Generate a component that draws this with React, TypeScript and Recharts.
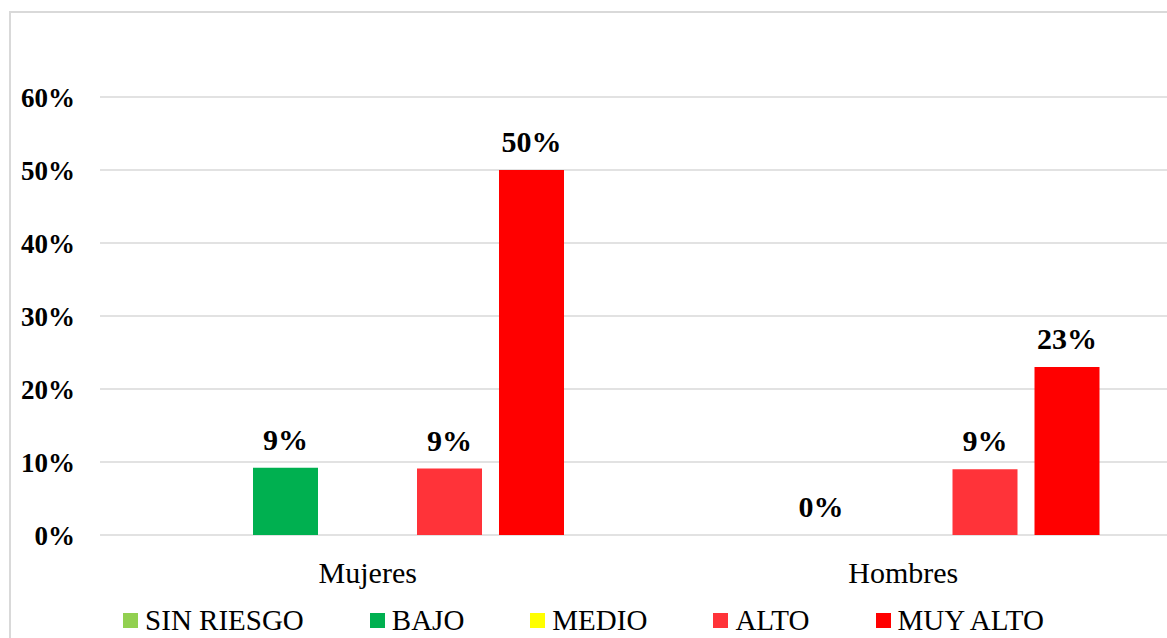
import { BarChart, Bar, XAxis, YAxis, CartesianGrid, Legend, LabelList } from "recharts";

const categories = ["Mujeres", "Hombres"];
const sinRiesgo = [null, null];
const bajo = [0.092, 0];
const medio = [null, null];
const alto = [0.091, 0.09];
const muyAlto = [0.5, 0.23];
const yTicks = [0, 0.1, 0.2, 0.3, 0.4, 0.5, 0.6];

const series = [
  { key: "sinRiesgo", name: "SIN RIESGO", color: "#92d050", values: sinRiesgo },
  { key: "bajo", name: "BAJO", color: "#00b050", values: bajo },
  { key: "medio", name: "MEDIO", color: "#ffff00", values: medio },
  { key: "alto", name: "ALTO", color: "#ff3339", values: alto },
  { key: "muyAlto", name: "MUY ALTO", color: "#ff0000", values: muyAlto },
];

const data = categories.map((c, i) => {
  const row: any = { name: c };
  series.forEach((s) => (row[s.key] = s.values[i]));
  return row;
});

const FONT = '"Liberation Serif", "Times New Roman", serif';
const pct = (v: any) => (v == null ? "" : `${Math.round(v * 100)}%`);

const LegendContent = () => (
  <div style={{ display: "flex", justifyContent: "center", alignItems: "center", fontFamily: FONT, fontSize: 29, color: "#000", gap: 66 }}>
    {series.map((s) => (
      <div key={s.key} style={{ display: "flex", alignItems: "center" }}>
        <span style={{ width: 15, height: 15, background: s.color, marginRight: 7, display: "inline-block" }} />
        <span style={{ lineHeight: "34px", whiteSpace: "nowrap", fontFamily: FONT }}>{s.name}</span>
      </div>
    ))}
  </div>
);

export default function App() {
  return (
    <div style={{ position: "absolute", left: 0, top: 0, width: 1167, height: 638, overflow: "hidden", background: "#fff", fontFamily: FONT }}>
      <div style={{ position: "absolute", left: 9, top: 11, width: 1300, height: 800, border: "2px solid #d9d9d9" }} />
      <div style={{ position: "absolute", left: 0, top: 0 }}>
        <BarChart width={1171} height={638} data={data} margin={{ top: 97, right: 0, left: 10, bottom: 43 }} barSize={65} barGap={17}>
          <CartesianGrid stroke="#d9d9d9" strokeWidth={1.5} vertical={false} />
          <XAxis
            dataKey="name"
            axisLine={false}
            tickLine={false}
            tickSize={0}
            tickMargin={27}
            height={60}
            tick={{ fontSize: 30, fill: "#000", fontFamily: FONT }}
          />
          <YAxis
            domain={[0, 0.6]}
            ticks={yTicks}
            tickFormatter={pct}
            axisLine={false}
            tickLine={false}
            tickSize={0}
            tickMargin={25}
            width={90}
            tick={{ fontSize: 27, fill: "#000", fontFamily: FONT, fontWeight: "bold" }}
          />
          <Legend
            layout="horizontal"
            verticalAlign="middle"
            align="center"
            content={<LegendContent />}
            wrapperStyle={{ position: "absolute", top: 603, left: 0, width: 1167 }}
          />
          {series.map((s) => (
            <Bar key={s.key} dataKey={s.key} name={s.name} fill={s.color} minPointSize={0.01} isAnimationActive={false}>
              <LabelList dataKey={s.key} position="top" offset={18} formatter={pct} style={{ fontSize: 30, fontWeight: "bold", fill: "#000", fontFamily: FONT }} />
            </Bar>
          ))}
        </BarChart>
      </div>
    </div>
  );
}
